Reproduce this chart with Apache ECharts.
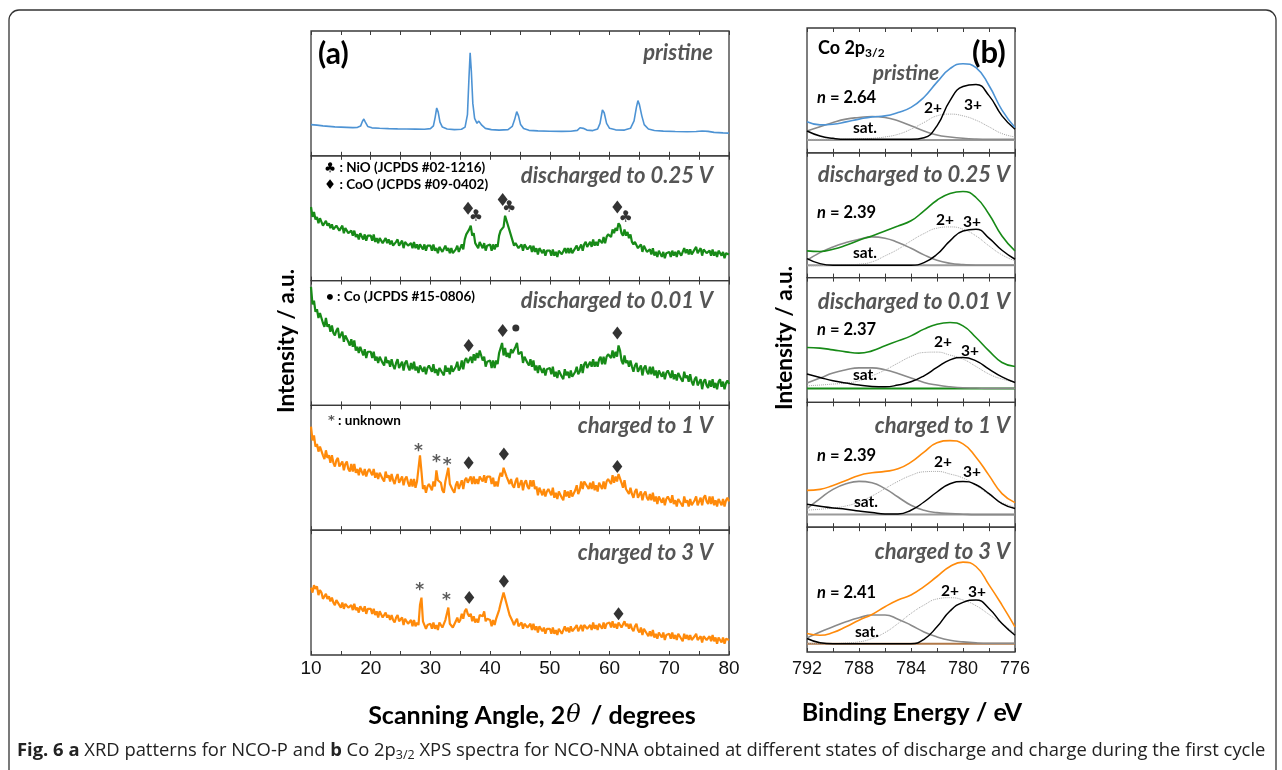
<!DOCTYPE html>
<html>
<head>
<meta charset="utf-8">
<title>XRD / XPS</title>
<script src="https://cdn.jsdelivr.net/npm/echarts@6/dist/echarts.min.js"></script>
<style>html,body{margin:0;padding:0;background:#fff;}</style>
</head>
<body>
<div id="main" style="width:1282px;height:770px;"></div>
<script type="text/javascript">
// XRD intensities (a.u., 0-100 inside each panel), sampled every 0.25 deg from 10 to 80
var xrdStart = 10, xrdStep = 0.25;

var xrdPristine = [[10,25],[11,24.6],[12,24],[13,23.6],[14,23.2],[15,23],[16,22.8],[17,22.6],[17.8,22.8],[18.3,23.8],
  [18.6,27.5],[18.85,29.5],[19.1,27],[19.5,23.5],[20.2,22.4],[21.5,22.1],[23,21.8],[24.5,21.6],[26,21.5],[27.5,21.4],
  [29,21.3],[30,21.8],[30.5,24],[30.8,31],[31.05,38.3],[31.3,35],[31.6,27],[32,23],[32.8,21.5],[34,21],
  [35.2,21.3],[35.8,23],[36.2,33],[36.45,62],[36.65,82.6],[36.85,68],[37.1,42],[37.4,30],[37.8,26],[38.1,27.8],
  [38.3,27.5],[38.6,24.5],[39.2,22],[40.2,21],[41.5,20.6],[43,21],[43.7,23.5],[44.1,29],[44.45,35.4],[44.75,32],
  [45.1,25],[45.6,21.8],[46.5,20.4],[48,20],[50,19.7],[52,19.6],[53.5,19.7],[54.6,20.4],[55.05,22.5],[55.3,23.6],
  [55.6,22],[56.2,20.6],[57.2,20.2],[58,21.5],[58.4,26],[58.8,36.7],[59.1,34.5],[59.5,26],[60,22],[61,20.8],
  [62.5,20.6],[63.5,22],[64.1,28],[64.5,39],[64.75,44.2],[65,41],[65.4,32],[65.8,25],[66.5,21.5],[67.5,20.3],
  [69,19.8],[71,19.5],[73,19.3],[74.5,19.5],[75.5,19.9],[76.5,19.6],[77.5,18.8],[79,18.4],[80,18.2]];

// one row = 5 degrees
var xrd025 = [
  59,51,55,49,51,46,50,49,44,43,48,44,46,42,45,41,40,44,45,40,
  40,44,38,42,43,38,37,40,36,40,35,37,33,38,37,33,37,32,36,36,
  36,32,37,31,34,30,34,34,30,29,34,30,33,29,32,28,27,31,33,28,
  28,32,26,31,32,28,27,30,26,31,26,29,25,29,29,25,29,24,28,28,
  28,24,29,24,26,22,27,27,23,22,28,24,26,22,26,22,21,25,28,23,
  24,29,25,33,37,37,41,44,36,38,30,31,26,31,30,26,30,24,28,29,
  29,24,29,25,29,27,36,40,41,43,52,48,48,40,40,32,28,30,31,26,
  26,29,24,29,29,25,24,28,23,28,23,26,21,26,26,22,25,20,24,25,
  24,20,25,20,23,19,24,25,21,20,26,22,26,22,26,22,22,26,28,24,
  24,29,24,29,31,27,27,31,27,33,28,31,28,33,34,30,35,30,35,37,
  38,35,41,38,42,40,46,44,38,36,41,36,39,34,37,31,29,31,32,26,
  25,29,23,28,28,23,22,25,21,26,20,23,19,24,23,19,23,18,22,23,
  23,19,24,20,23,19,24,24,20,19,26,22,25,21,25,21,20,25,27,22,
  22,26,20,25,26,22,21,24,20,25,20,23,19,24,24,20,23,18,22,23,
  21];

var xrd001 = [
  95,81,84,75,77,70,74,73,66,63,70,63,65,59,64,58,56,60,62,54,
  55,59,51,56,57,51,48,53,47,52,44,47,42,47,47,40,45,38,43,44,
  43,38,43,36,39,34,39,40,34,32,39,34,36,31,37,32,29,34,37,30,
  30,35,28,34,36,31,28,34,29,35,28,31,26,32,33,27,31,25,30,32,
  32,27,33,26,29,24,30,31,26,24,32,27,30,25,32,27,26,31,35,28,
  30,36,29,36,38,34,34,39,34,41,36,42,38,44,44,36,39,31,35,36,
  36,30,36,30,36,33,42,46,50,40,46,39,42,38,45,42,41,47,50,41,
  40,43,34,39,40,34,32,37,31,36,28,32,26,32,32,26,30,24,29,30,
  30,25,31,23,27,22,28,29,23,21,29,24,27,22,28,23,22,27,31,25,
  27,33,26,33,35,30,29,35,31,37,31,35,31,37,39,33,39,33,39,41,
  42,38,44,38,43,39,48,44,36,33,40,34,36,31,36,31,27,32,34,27,
  27,32,24,30,32,27,25,31,25,31,24,28,22,28,29,23,27,21,26,28,
  27,22,28,21,25,20,26,27,21,19,27,22,24,19,25,19,16,21,23,16,
  16,21,13,19,21,16,14,20,15,21,14,18,13,19,21,15,19,13,18,20,
  17];

var xrd1V = [
  83,72,76,67,69,63,67,67,60,57,64,58,60,54,60,54,51,56,58,51,
  51,55,48,53,55,49,47,53,47,53,46,49,44,50,50,44,49,43,47,49,
  49,44,49,42,46,41,46,47,41,39,47,42,44,39,45,40,37,42,45,38,
  38,43,36,41,43,38,35,41,35,41,34,39,40,60,47,33,36,30,35,37,
  37,32,39,35,48,40,40,38,32,30,39,39,50,37,38,32,30,36,39,33,
  34,40,33,40,42,38,37,43,37,43,37,41,37,43,44,39,44,38,43,44,
  43,37,42,35,39,35,42,46,43,50,51,43,44,37,41,36,34,39,42,34,
  35,40,32,38,40,35,33,40,35,40,33,35,28,34,35,28,33,27,31,33,
  33,28,34,26,30,25,31,32,26,24,32,27,31,26,32,27,27,32,36,29,
  32,39,33,39,40,35,33,38,33,39,32,36,31,38,39,33,39,33,39,41,
  42,37,44,38,43,39,45,45,38,34,40,33,34,29,34,29,26,31,33,26,
  26,31,24,29,31,26,24,29,24,30,23,27,21,27,28,22,26,20,25,27,
  27,22,28,21,24,19,25,26,21,19,27,22,24,19,25,20,19,24,27,20,
  21,26,20,26,28,23,21,27,21,27,20,24,19,25,26,20,25,19,24,26,
  23];

var xrd3V = [
  54,50,56,53,55,48,52,50,45,44,49,45,47,43,46,42,40,44,45,40,
  38,42,37,41,42,38,37,40,36,41,36,38,34,39,39,35,39,33,37,38,
  37,33,37,32,35,30,35,35,30,29,34,30,32,28,32,28,26,30,32,27,
  26,30,24,29,30,25,24,28,23,28,23,26,24,40,46,27,26,21,24,25,
  25,21,26,21,24,20,26,26,22,21,28,29,38,25,26,22,22,27,30,26,
  28,33,29,35,37,33,31,33,27,31,26,29,26,32,33,31,35,27,29,29,
  28,23,28,24,29,28,36,41,42,50,50,41,40,32,33,27,24,27,29,23,
  22,26,21,25,26,22,21,25,20,25,20,23,18,23,23,19,22,17,21,22,
  21,17,22,17,20,16,21,21,17,17,23,19,22,18,23,19,18,22,24,19,
  19,24,19,24,25,21,20,24,20,26,21,24,20,25,25,21,26,21,25,26,
  26,22,27,22,25,21,26,26,22,21,27,23,25,21,25,21,19,23,25,20,
  18,22,16,21,21,17,15,19,15,20,14,17,13,18,18,14,18,12,16,17,
  17,13,18,13,16,12,17,17,13,11,17,13,16,12,16,12,11,15,17,12,
  12,15,10,15,16,12,11,15,11,16,11,14,9,14,14,10,14,9,13,14,
  12];

// peak markers: [symbol, 2theta, height]
var marks025 = [['♦',36.3,58],['♣',37.6,51],['♦',42.1,65],['♣',43.2,58],['♦',61.3,59],['♣',62.7,50]];
var marks001 = [['♦',36.4,48],['♦',42.1,60],['●',44.3,62],['♦',61.3,58]];
var marks1V = [['*',28.0,66],['*',31.0,57],['*',32.8,55],['♦',36.4,54],['♦',42.3,61],['♦',61.3,51]];
var marks3V = [['*',28.2,55],['*',32.7,47],['♦',36.5,46],['♦',42.3,59],['♦',61.5,33]];

var states = ['pristine', 'discharged to 0.25 V', 'discharged to 0.01 V', 'charged to 1 V', 'charged to 3 V'];
var nValues = ['2.64', '2.39', '2.37', '2.39', '2.41'];

// XPS Co 2p3/2, one value per eV from 792 down to 776
var bindingEnergy = [792,791,790,789,788,787,786,785,784,783,782,781,780,779,778,777,776];
var xpsEnvelope = [
  [24.8,22.4,22.9,24.8,27.0,28.8,29.6,32.3,36.4,44.5,56.6,67.4,71.4,68.2,53.9,34.2,20.2],
  [21.4,20.9,22.7,25.9,29.9,33.4,37.4,41.4,45.5,53.5,62.0,67.4,69.0,64.2,50.8,33.4,21.4],
  [44.0,43.5,42.1,40.5,39.5,41.3,45.3,49.3,53.3,58.7,62.7,64.0,61.3,52.0,41.3,32.0,28.8],
  [29.5,30.3,33.5,37.5,41.5,43.6,44.7,46.8,52.1,60.1,67.6,69.4,66.8,56.1,41.5,26.9,19.7],
  [14.8,13.4,15.6,20.2,25.5,30.1,36.3,41.7,45.7,52.4,60.5,68.5,72.0,68.5,53.8,37.6,20.2]];
var xpsCo3 = [
  [17.5,13.5,11.6,10.8,10.8,10.8,10.8,10.8,10.8,12.1,21.6,41.8,53.1,54.7,45.8,29.6,18.9],
  [15.2,11.2,9.9,9.9,9.9,9.9,9.9,9.9,9.9,12.0,18.7,29.4,37.4,38.8,31.6,21.9,14.7],
  [22.7,20.0,17.3,15.5,13.9,12.8,12.5,13.9,16.5,21.3,28.0,34.1,36.0,33.3,26.7,20.5,16.0],
  [18.4,16.8,15.4,14.4,13.0,11.7,10.6,10.6,13.6,20.2,28.2,34.8,36.7,34.0,26.9,18.9,14.9],
  [10.8,7.5,6.7,6.7,6.7,6.7,6.7,6.7,6.7,10.2,20.2,32.8,39.8,41.7,34.9,22.8,13.4]];
var xpsCo2 = [
  [10.8,10.8,10.8,10.8,11.1,11.6,12.7,14.8,18.9,24.3,29.6,31.0,29.6,26.1,20.8,15.4,12.7],
  [9.4,9.6,9.9,10.2,10.7,12.6,17.4,22.7,29.4,35.3,39.6,40.6,38.8,33.4,25.4,18.2,13.4],
  [13.3,13.9,14.7,15.5,17.3,21.3,25.9,31.5,36.8,40.0,40.3,37.9,34.7,28.8,22.7,18.7,16.5],
  [13.6,14.4,15.4,17.0,20.2,25.0,30.9,36.7,41.5,44.4,44.7,42.6,39.4,33.5,26.1,19.7,16.2],
  [6.7,6.7,6.7,7.3,8.1,10.8,15.6,22.8,30.9,37.6,42.5,43.5,41.7,37.1,30.1,22.8,14.8]];
var xpsSat = [
  [17.5,20.8,24.3,27.0,28.3,29.1,28.3,25.6,21.6,17.5,14.3,12.7,11.6,11.0,10.8,10.8,10.8],
  [13.9,20.0,24.6,28.1,30.7,32.6,31.6,28.1,23.5,18.2,13.9,11.5,10.4,9.9,9.9,9.9,9.9],
  [15.5,19.5,23.5,26.1,27.7,27.7,26.1,23.2,19.5,16.0,13.9,12.5,11.7,11.5,11.2,11.2,11.2],
  [14.9,22.9,30.3,34.8,36.7,35.6,30.9,24.2,17.6,13.6,11.7,10.9,10.4,10.1,10.1,10.1,10.1],
  [11.3,16.1,20.2,24.2,27.4,29.6,29.6,26.3,21.5,16.1,12.1,9.4,8.1,7.3,7.0,7.0,7.0]];
var xpsBaseline = [10.2, 9.9, 11.2, 10.1, 6.7];

var BLUE = '#4d93d4', GREEN = '#178a17', ORANGE = '#ff8a0a';
var xrdColors = [BLUE, GREEN, GREEN, ORANGE, ORANGE];
var baseColors = ['#9a9a9a', '#9a9a9a', GREEN, '#9a9a9a', '#b07848'];

var myChart = echarts.init(document.getElementById('main'));

var A_LEFT = 311, A_W = 418, A_TOP = 31, A_H = 124.8;
var B_LEFT = 807, B_W = 208, B_TOP = 28, B_H = 124.8;
var AXIS_COLOR = '#3a3a3a';

var grids = [], xAxes = [], yAxes = [], series = [], graphics = [];

function addPanel(left, top, width, height, min, max, interval, inverse, showLabels, labelSize, labelMargin) {
  var g = grids.length;
  grids.push({left: left, top: top, width: width, height: height, show: true,
    borderColor: AXIS_COLOR, borderWidth: 1.3, containLabel: false});
  var tick = {show: true, inside: true, length: 4, lineStyle: {color: AXIS_COLOR, width: 1}};
  var minor = {show: true, splitNumber: 2, length: 4, lineStyle: {color: AXIS_COLOR, width: 1}};
  xAxes.push({type: 'value', gridIndex: g, position: 'bottom', min: min, max: max, interval: interval,
    inverse: inverse, axisLine: {show: false}, splitLine: {show: false}, axisTick: tick, minorTick: minor,
    axisLabel: {show: showLabels, fontFamily: 'Liberation Sans', fontSize: labelSize, color: '#111', margin: labelMargin}});
  xAxes.push({type: 'value', gridIndex: g, position: 'top', min: min, max: max, interval: interval,
    inverse: inverse, axisLine: {show: false}, splitLine: {show: false}, axisTick: tick, minorTick: minor,
    axisLabel: {show: false}});
  yAxes.push({type: 'value', gridIndex: g, min: 0, max: 100, show: false});
  return g;
}

function line(g, data, color, width, type, smooth) {
  return {type: 'line', xAxisIndex: 2 * g, yAxisIndex: g, data: data, showSymbol: false, symbol: 'none',
    smooth: smooth || false, silent: true,
    lineStyle: {color: color, width: width, type: type || 'solid'}};
}

function toPairs(vals) {
  return vals.map(function (v, i) { return [xrdStart + i * xrdStep, v]; });
}

function markSeries(g, list) {
  var data = list.map(function (m) {
    var item = {value: [m[1], m[2]]};
    if (m[0] === '♦') {
      item.symbol = 'diamond'; item.symbolSize = [10, 13]; item.itemStyle = {color: '#000'};
    } else if (m[0] === '●') {
      item.symbol = 'circle'; item.symbolSize = 7; item.itemStyle = {color: '#000'};
    } else {
      item.symbol = 'circle'; item.symbolSize = 1; item.itemStyle = {color: 'rgba(0,0,0,0)'};
      item.label = {show: true, position: 'inside', formatter: m[0],
        fontFamily: 'DejaVu Sans', fontWeight: 'bold',
        fontSize: m[0] === '*' ? 17 : 16, color: m[0] === '*' ? '#333' : '#000',
        offset: m[0] === '*' ? [0, 4] : [0, 0]};
    }
    return item;
  });
  return {type: 'scatter', xAxisIndex: 2 * g, yAxisIndex: g, data: data, silent: true, z: 5};
}

// panel (a)
var xrdSets = [null, xrd025, xrd001, xrd1V, xrd3V];
var markSets = [null, marks025, marks001, marks1V, marks3V];
for (var i = 0; i < 5; i++) {
  var g = addPanel(A_LEFT, A_TOP + i * A_H, A_W, A_H, 10, 80, 10, false, i === 4, 19, 4);
  if (i === 0) series.push(line(g, xrdPristine, BLUE, 1.6));
  else series.push(line(g, toPairs(xrdSets[i]), xrdColors[i], 2.2));
  if (markSets[i]) series.push(markSeries(g, markSets[i]));
}

// panel (b)
for (i = 0; i < 5; i++) {
  g = addPanel(B_LEFT, B_TOP + i * B_H, B_W, B_H, 776, 792, 4, true, i === 4, 18, 8);
  var pair = function (arr) { return bindingEnergy.map(function (e, k) { return [e, arr[k]]; }); };
  series.push(line(g, [[792, xpsBaseline[i]], [776, xpsBaseline[i]]], baseColors[i], 2));
  series.push(line(g, pair(xpsSat[i]), '#8a8a8a', 1.6, 'solid', 0.5));
  series.push(line(g, pair(xpsCo2[i]), '#a8a8a8', 1, 'dotted', 0.5));
  series.push(line(g, pair(xpsCo3[i]), '#000', 1.5, 'solid', 0.5));
  series.push(line(g, pair(xpsEnvelope[i]), xrdColors[i], 1.6, 'solid', 0.5));
}

// text helpers
function txt(x, y, text, o) {
  o = o || {};
  return {type: 'text', x: x, y: y, rotation: o.rot || 0, silent: true, z: 10,
    style: {text: text, fontFamily: o.ff || 'Lato', fontSize: o.fs || 14, fontWeight: o.fw || 'bold',
      fontStyle: o.it ? 'italic' : 'normal', fill: o.c || '#000', align: o.al || 'left',
      verticalAlign: 'middle', rich: o.rich}};
}

// outer frame
graphics.push({type: 'rect', silent: true, z: 0, shape: {x: 9, y: 10, width: 1267, height: 790, r: 10},
  style: {fill: 'none', stroke: '#333', lineWidth: 1.3}});

// panel (a) texts
graphics.push(txt(318, 54, '(a)', {fs: 30}));
var aTitleY = [53, 176, 301, 426, 553];
for (i = 0; i < 5; i++) graphics.push(txt(713, aTitleY[i], states[i], {fs: 22, it: true, c: '#555', al: 'right'}));
var legFont = {ff: 'Lato, DejaVu Sans', fs: 13.5};
graphics.push(txt(324, 168, '♣ : NiO (JCPDS #02-1216)', legFont));
graphics.push(txt(324, 185, '♦ : CoO (JCPDS #09-0402)', legFont));
graphics.push(txt(326, 297, '• : Co (JCPDS #15-0806)', legFont));
graphics.push(txt(328, 421, '{g|*} : unknown', {ff: 'Lato', fs: 13.5,
  rich: {g: {fontFamily: 'DejaVu Sans', fontSize: 13, fontWeight: 'bold', fill: '#555'}}}));
graphics.push(txt(287, 341, 'Intensity / a.u.', {fs: 22.5, al: 'center', rot: Math.PI / 2}));
graphics.push(txt(532, 716, '{t|Scanning Angle, 2}{th|θ}{t| / degrees}', {al: 'center',
  rich: {t: {fontFamily: 'Lato', fontWeight: 'bold', fontSize: 25, fill: '#000'},
    th: {fontFamily: 'DejaVu Serif', fontStyle: 'italic', fontSize: 24, fill: '#000', padding: [0, 4, 0, 1]}}}));

// panel (b) texts
graphics.push(txt(818, 48, '{m|Co 2p}{s|3/2}', {rich: {
  m: {fontFamily: 'Lato', fontWeight: 'bold', fontSize: 18, fill: '#000'},
  s: {fontFamily: 'Lato', fontWeight: 'bold', fontSize: 12, fill: '#000', padding: [10, 0, 0, 0]}}}));
graphics.push(txt(972, 53, '(b)', {fs: 31}));
graphics.push(txt(906, 73, states[0], {fs: 21, it: true, c: '#555', al: 'center'}));
var bTitleY = [null, 175, 302, 426, 552];
for (i = 1; i < 5; i++) graphics.push(txt(1010, bTitleY[i], states[i], {fs: 22, it: true, c: '#555', al: 'right'}));
var nY = [98, 213, 330, 456, 593];
var plus2 = [[933, 108], [945, 220], [943, 342], [943, 462], [950, 591]];
var plus3 = [[973, 105], [972, 222], [970, 351], [972, 472], [977, 592]];
var satPos = [[865, 128], [865, 253], [865, 375], [866, 502], [867, 632]];
for (i = 0; i < 5; i++) {
  graphics.push(txt(817, nY[i], '{n|n} = ' + nValues[i], {fs: 16.5,
    rich: {n: {fontFamily: 'Lato', fontWeight: 'bold', fontStyle: 'italic', fontSize: 16.5, fill: '#000'}}}));
  graphics.push(txt(plus2[i][0], plus2[i][1], '2+', {fs: 15.5, al: 'center'}));
  graphics.push(txt(plus3[i][0], plus3[i][1], '3+', {fs: 15.5, al: 'center'}));
  graphics.push(txt(satPos[i][0], satPos[i][1], 'sat.', {fs: 15.5, al: 'center'}));
}
graphics.push(txt(785, 338, 'Intensity / a.u.', {fs: 22.5, al: 'center', rot: Math.PI / 2}));
graphics.push(txt(912, 713, 'Binding Energy / eV', {fs: 25, al: 'center'}));

// caption
graphics.push(txt(17, 751,
  '{b|Fig. 6 a} XRD patterns for NCO-P and {b|b} Co 2p{s|3/2} XPS spectra for NCO-NNA obtained at different states of discharge and charge during the first cycle',
  {ff: 'Open Sans', fs: 18.4, fw: 'normal', c: '#222', rich: {
    b: {fontFamily: 'Open Sans', fontWeight: 'bold', fontSize: 18.4, fill: '#222'},
    s: {fontFamily: 'Open Sans', fontSize: 12.5, fill: '#222', padding: [9, 0, 0, 0]}}}));

var option = {
  animation: false,
  backgroundColor: '#fff',
  grid: grids,
  xAxis: xAxes,
  yAxis: yAxes,
  series: series,
  graphic: graphics
};
myChart.setOption(option);
</script>
</body>
</html>
